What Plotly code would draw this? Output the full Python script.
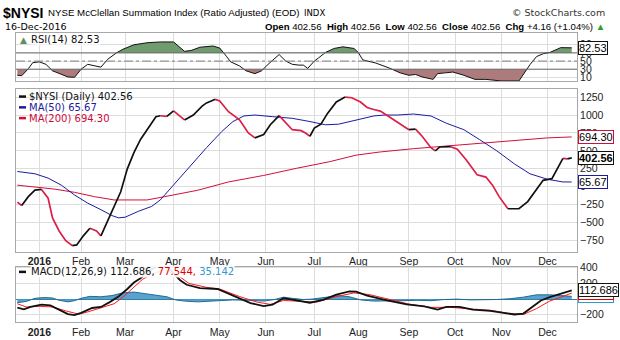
import numpy as np
import plotly.graph_objects as go

# ---------------- data (x = trading-day number, 0 = first session of 2016) ----------------
HOLIDAYS = ["2015-12-25", "2016-01-01", "2016-01-18", "2016-02-15", "2016-03-25",
            "2016-05-30", "2016-07-04", "2016-09-05", "2016-11-24"]
MONTH_START = ["2016-01-04", "2016-02-01", "2016-03-01", "2016-04-01", "2016-05-02", "2016-06-01",
               "2016-07-01", "2016-08-01", "2016-09-01", "2016-10-03", "2016-11-01", "2016-12-01"]
MONTH_LABELS = ["<b>2016</b>", "Feb", "Mar", "Apr", "May", "Jun", "Jul", "Aug", "Sep", "Oct", "Nov", "Dec"]

nysi_day = [-10, -8, -5, -2, 1, 4, 6, 9, 12, 15, 17, 20, 23, 26, 28, 31, 34, 37, 40, 43, 46, 48, 51, 53,
            55, 58, 61, 66, 70, 74, 76, 80, 82, 86, 91, 95, 98, 102, 105, 109, 112, 115, 119, 121, 123,
            125, 128, 131, 135, 139, 142, 146, 149, 152, 155, 159, 164, 168, 171, 174, 178, 180, 182,
            187, 190, 194, 199, 203, 206, 209, 213, 218, 222, 226, 229, 233, 235, 238, 240, 242]
nysi_val = [-216, -262, -139, -48, -38, -161, -435, -618, -754, -823, -813, -686, -581, -618, -686,
            -481, -298, -71, 249, 476, 659, 749, 886, 977, 990, 982, 1059, 932, 1000, 1124, 1169, 1219,
            1196, 1046, 932, 749, 681, 727, 864, 991, 886, 795, 782, 749, 704, 817, 872, 1023, 1182,
            1251, 1241, 1182, 1105, 1077, 1055, 977, 877, 795, 804, 704, 544, 499, 554, 558, 522, 376,
            167, 134, 21, -139, -308, -308, -208, -48, 89, 112, 226, 395, 388, 402.56]

ma50_day = [-10, -2, 4, 10, 16, 22, 28, 33, 36, 39, 45, 51, 55, 61, 67, 71, 76, 83, 88, 93, 98, 106,
            115, 123, 130, 136, 144, 152, 157, 163, 170, 178, 185, 193, 200, 208, 216, 223, 231, 238, 242]
ma50_val = [212, 180, 120, 21, -116, -230, -321, -403, -435, -426, -344, -276, -185, 21, 226, 376, 544,
            772, 909, 987, 1000, 977, 954, 909, 864, 872, 932, 987, 1000, 1000, 1014, 987, 886, 795,
            659, 499, 317, 180, 103, 66, 65.67]

ma200_day = [-10, -2, 7, 16, 25, 34, 40, 49, 57, 64, 72, 86, 102, 117, 132, 144, 155, 170, 185, 200,
             216, 231, 242]
ma200_val = [21, -3, -34, -79, -139, -185, -189, -185, -139, -93, -50, 66, 157, 257, 349, 440, 485,
             530, 567, 604, 649, 681, 694.30]

rsi_day = [-10, -8, -5, -3, 0, 3, 6, 10, 13, 16, 19, 22, 25, 28, 31, 35, 38, 43, 49, 55, 61, 63, 66,
           69, 73, 79, 82, 85, 87, 91, 94, 98, 101, 104, 109, 112, 115, 118, 120, 122, 125, 127, 130,
           134, 138, 143, 145, 147, 153, 159, 164, 168, 171, 174, 179, 181, 184, 188, 193, 198, 203,
           210, 218, 220, 223, 226, 229, 232, 237, 242]
rsi_val = [15, 14, 31, 46, 48, 42, 26, 18, 11, 10, 30, 42, 38, 35, 54, 70, 79, 90, 95, 97, 97, 87, 74,
           76, 84, 87, 82, 62, 48, 38, 26, 19, 26, 42, 66, 50, 42, 40, 40, 32, 50, 58, 71, 81, 85, 81,
           71, 53, 45, 33, 21, 15, 17, 11, 5, 19, 21, 23, 15, 5, 5, 1, 1, 17, 41, 61, 68, 71, 83, 82.53]

macd_day = [-10, -7, -4, 1, 5, 9, 13, 16, 19, 24, 28, 32, 36, 40, 43, 46, 50, 54, 58, 61, 64, 67, 73,
            81, 88, 96, 102, 106, 111, 116, 120, 123, 129, 135, 141, 144, 149, 158, 167, 175, 181,
            185, 191, 197, 205, 211, 216, 220, 224, 228, 232, 237, 242]
macd_val = [-109, -130, -100, -71, -80, -134, -192, -205, -175, -113, -100, -38, 33, 129, 212, 266,
            360, 430, 410, 330, 241, 183, 141, 129, 46, -50, -88, -71, 13, -9, -30, -46, -9, 58, 100,
            95, 45, -17, -67, -92, -134, -100, -100, -134, -150, -175, -196, -184, -100, -17, 25, 66,
            112.686]

signal_day = [-10, -6, 0, 6, 12, 18, 22, 28, 34, 38, 43, 47, 52, 57, 61, 64, 68, 76, 82, 91, 99, 105,
              111, 118, 126, 134, 143, 150, 159, 168, 178, 187, 196, 205, 214, 220, 226, 232, 237, 242]
signal_val = [-59, -100, -92, -100, -150, -192, -163, -113, -59, 25, 150, 254, 330, 370, 330, 283, 200,
              150, 129, 33, -38, -67, -17, -30, -38, 25, 79, 58, 0, -63, -105, -105, -125, -142, -184,
              -196, -121, -25, 25, 77.544]

hist_day = [-10, -6, -2, 2, 6, 9, 13, 16, 19, 23, 28, 33, 38, 43, 48, 53, 58, 62, 66, 72, 80, 88, 95,
            102, 107, 111, 115, 120, 124, 130, 136, 141, 146, 152, 158, 165, 172, 178, 184, 190, 196,
            202, 208, 214, 220, 226, 232, 237, 242]
hist_val = [-45, -30, 10, 20, 15, -15, -35, -20, 10, 35, 30, 45, 80, 90, 70, 50, 30, -10, -25, -35, -25,
            -10, -15, -25, -5, 25, 10, -5, 0, 25, 45, 30, -10, -25, -25, -20, -15, -20, -5, 0, -10,
            -10, -5, 5, 25, 55, 55, 45, 35.142]

MAIN_TICKS = [-750, -500, -250, 0, 250, 500, 750, 1000, 1250]
RSI_TICKS = [10, 30, 50, 70, 90]
MACD_TICKS = [-200, 0, 200, 400]

# ---------------- helpers ----------------
W, H = 620, 340
def fx(p): return p / W
def fy(p): return 1 - p / H

FONT_AX = "Liberation Sans, Arial, sans-serif"
FONT_LG = "DejaVu Sans, Verdana, sans-serif"

month_days = [int(np.busday_count("2016-01-04", d, holidays=HOLIDAYS)) for d in MONTH_START]
X_RANGE = [-10.6, 244.4]

def direction_runs(x, y):
    up_x, up_y, dn_x, dn_y = [], [], [], []
    i, n = 0, len(x)
    while i < n - 1:
        rising = y[i + 1] >= y[i]
        j = i
        while j < n - 1 and (y[j + 1] >= y[j]) == rising:
            j += 1
        tx, ty = (up_x, up_y) if rising else (dn_x, dn_y)
        tx.extend(list(x[i:j + 1]) + [None])
        ty.extend(list(y[i:j + 1]) + [None])
        i = j
    return up_x, up_y, dn_x, dn_y

def band(x, y, level, above):
    xs, ys = [], []
    for i in range(len(x)):
        if i > 0:
            y0, y1 = y[i - 1], y[i]
            if (y0 - level) * (y1 - level) < 0:
                t = (level - y0) / (y1 - y0)
                xs.append(x[i - 1] + t * (x[i] - x[i - 1]))
                ys.append(level)
        xs.append(x[i])
        ys.append(max(y[i], level) if above else min(y[i], level))
    return xs, ys

fig = go.Figure()

# ---------------- RSI panel ----------------
for level, above, col in [(70, True, "#6f9b6f"), (30, False, "#ad7b7b")]:
    bx, by = band(rsi_day, rsi_val, level, above)
    fig.add_trace(go.Scatter(x=bx, y=[level] * len(bx), mode="lines", line=dict(width=0),
                             xaxis="x2", yaxis="y2", hoverinfo="skip", showlegend=False))
    fig.add_trace(go.Scatter(x=bx, y=by, mode="lines", line=dict(width=0), fill="tonexty",
                             fillcolor=col, xaxis="x2", yaxis="y2", hoverinfo="skip", showlegend=False))
fig.add_trace(go.Scatter(x=rsi_day, y=rsi_val, mode="lines", line=dict(color="#111", width=1),
                         xaxis="x2", yaxis="y2", showlegend=False))

# ---------------- main panel ----------------
fig.add_trace(go.Scatter(x=ma200_day, y=ma200_val, mode="lines", line=dict(color="#d0103c", width=1),
                         xaxis="x", yaxis="y", showlegend=False))
fig.add_trace(go.Scatter(x=ma50_day, y=ma50_val, mode="lines", line=dict(color="#1c1c9e", width=1),
                         xaxis="x", yaxis="y", showlegend=False))
ux, uy, dx, dy = direction_runs(nysi_day, nysi_val)
fig.add_trace(go.Scatter(x=dx, y=dy, mode="lines", line=dict(color="#dc1e48", width=1.7),
                         xaxis="x", yaxis="y", showlegend=False, connectgaps=False))
fig.add_trace(go.Scatter(x=ux, y=uy, mode="lines", line=dict(color="#111", width=1.7),
                         xaxis="x", yaxis="y", showlegend=False, connectgaps=False))

# ---------------- MACD panel ----------------
fig.add_trace(go.Scatter(x=hist_day, y=hist_val, mode="lines", fill="tozeroy",
                         fillcolor="rgba(72,152,200,0.9)", line=dict(color="#216c8e", width=1),
                         xaxis="x3", yaxis="y3", showlegend=False))
fig.add_trace(go.Scatter(x=signal_day, y=signal_val, mode="lines", line=dict(color="#ff1a1a", width=1),
                         xaxis="x3", yaxis="y3", showlegend=False))
fig.add_trace(go.Scatter(x=macd_day, y=macd_val, mode="lines", line=dict(color="#111", width=1.8),
                         xaxis="x3", yaxis="y3", showlegend=False))

# ---------------- axes ----------------
XDOM = [fx(16), fx(577)]
grid = "#dddddd"
border = "#a8a8a8"
tickfont = dict(family=FONT_AX, size=10.5, color="#222")

def xax(anchor, labels, match=None):
    d = dict(domain=XDOM, range=X_RANGE, anchor=anchor, tickvals=month_days, ticktext=MONTH_LABELS,
             showticklabels=labels, showgrid=True, gridcolor=grid, gridwidth=1, zeroline=False,
             showline=True, linecolor=border, mirror=True, ticks="", tickfont=tickfont)
    if match:
        d["matches"] = match
    return d

def yax(anchor, dom, rng, ticks, zero=False):
    return dict(domain=dom, range=rng, anchor=anchor, side="right", tickvals=ticks,
                showgrid=True, gridcolor=grid, gridwidth=1, zeroline=zero, zerolinecolor="#2f7fa3",
                zerolinewidth=1, showline=True, linecolor=border, mirror=True, ticks="",
                tickfont=tickfont)

fig.update_layout(
    width=W, height=H, margin=dict(l=0, r=0, t=0, b=0),
    paper_bgcolor="white", plot_bgcolor="white",
    xaxis=xax("y", True),
    xaxis2=xax("y2", False, "x"),
    xaxis3=xax("y3", True, "x"),
    yaxis=yax("x", [fy(252), fy(86)], [-909, 1360], MAIN_TICKS),
    yaxis2=yax("x2", [fy(78), fy(29)], [0, 118], RSI_TICKS),
    yaxis3=yax("x3", [fy(324), fy(267)], [-296, 416], MACD_TICKS, zero=True),
)

# RSI reference lines
shapes = []
for lv, dash, col in [(70, "solid", "#6a6a6a"), (30, "solid", "#6a6a6a"), (50, "dashdot", "#808080")]:
    shapes.append(dict(type="line", xref="x2 domain", yref="y2", x0=0, x1=1, y0=lv, y1=lv,
                       line=dict(color=col, width=1, dash=dash)))
# legend swatches
for ypix, col in [(93.5, "#111"), (104.5, "#1c1c9e"), (115.5, "#d0103c"), (272.5, "#111")]:
    shapes.append(dict(type="line", xref="paper", yref="paper", x0=fx(19), x1=fx(26),
                       y0=fy(ypix), y1=fy(ypix), line=dict(color=col, width=2.5)))
fig.update_layout(shapes=shapes)

ann = []
def text(x, y, s, size=10, color="#111", family=FONT_AX, xanchor="left", **kw):
    ann.append(dict(xref="paper", yref="paper", x=fx(x), y=fy(y), text=s, showarrow=False,
                    xanchor=xanchor, yanchor="middle", font=dict(family=family, size=size, color=color),
                    borderpad=0, **kw))

# header
text(2, 8, "<b>$NYSI</b>", size=14, color="#000")
text(47, 8, "NYSE McClellan Summation Index (Ratio Adjusted) (EOD)", size=9.7, color="#000")
text(303, 8, "INDX", size=8.5, color="#000", family=FONT_LG)
text(606, 8, "© StockCharts.com", size=9.5, color="#333", family=FONT_LG, xanchor="right")
text(4, 22, "16-Dec-2016", size=9.5, color="#000", family=FONT_LG)
text(606, 22, "<b>Open</b> 402.56  <b>High</b> 402.56  <b>Low</b> 402.56  <b>Close</b> 402.56  "
              "<b>Chg</b> +4.16 (+1.04%) <span style='color:#2e9e2e'>▲</span>",
     size=9.6, color="#000", xanchor="right")

# legends
text(19, 35.5, "<span style='color:#5f8f5f'>▲</span>", size=9, family=FONT_LG)
text(30, 35.5, "RSI(14) 82.53", size=10, family=FONT_LG, bgcolor="rgba(255,255,255,0.6)")
text(28, 93.5, "$NYSI (Daily) 402.56", size=10, family=FONT_LG, color="#111")
text(28, 104.5, "MA(50) 65.67", size=10, family=FONT_LG, color="#1c1c9e")
text(28, 115.5, "MA(200) 694.30", size=10, family=FONT_LG, color="#cc0a3c")
text(30, 272.5, "MACD(12,26,9) 112.686,<span style='color:#e00000'> 77.544,</span>"
                "<span style='color:#3399cc'> 35.142</span>", size=10, family=FONT_LG,
     bgcolor="rgba(255,255,255,0.9)")

# right-side value tags
def tag(yref, val, label, col, bold=False):
    ann.append(dict(xref="paper", yref=yref, x=fx(578), y=val, text=("<b>%s</b>" % label) if bold else label,
                    showarrow=False, xanchor="left", yanchor="middle",
                    font=dict(family=FONT_AX, size=11, color="#000"),
                    bgcolor="white", bordercolor=col, borderwidth=1, borderpad=0))

tag("y2", rsi_val[-1], "%.2f" % rsi_val[-1], "#111")
tag("y", ma200_val[-1], "%.2f" % ma200_val[-1], "#d0103c")
tag("y", nysi_val[-1], "%.2f" % nysi_val[-1], "#111", bold=True)
tag("y", ma50_val[-1], "%.2f" % ma50_val[-1], "#1c1c9e")
tag("y3", hist_val[-1], "%.3f" % hist_val[-1], "#3399cc")
tag("y3", signal_val[-1], "%.3f" % signal_val[-1], "#e00000")
tag("y3", macd_val[-1], "%.3f" % macd_val[-1], "#111")

fig.update_layout(annotations=ann)
fig.write_html("out.html")
